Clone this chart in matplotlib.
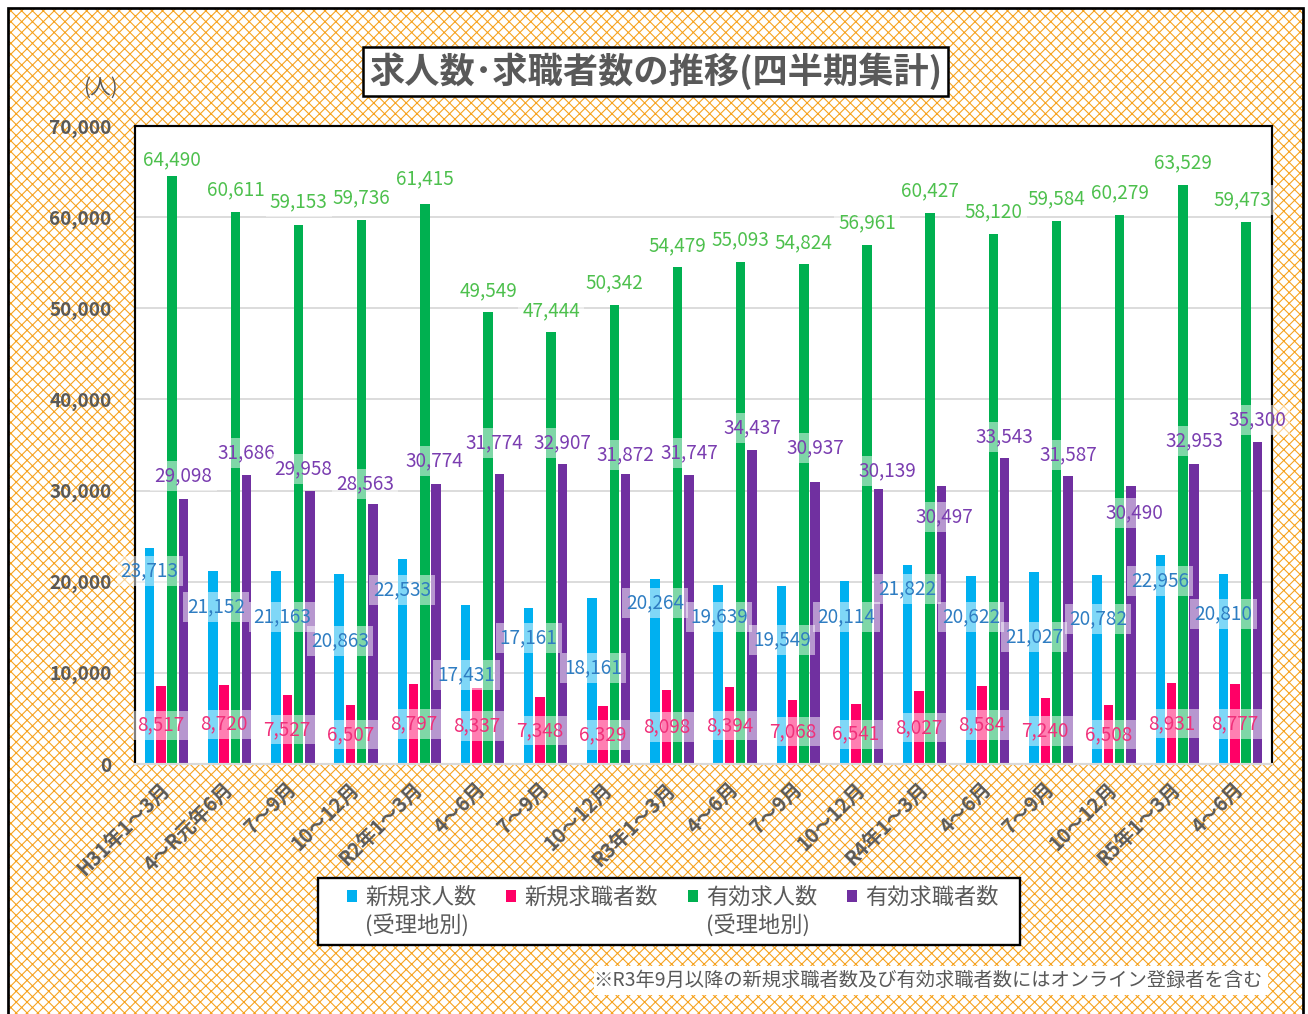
import matplotlib
matplotlib.use('Agg')
import matplotlib.pyplot as plt
from matplotlib.patches import Rectangle, Patch
import numpy as np

plt.rcParams['font.family'] = ['Noto Sans CJK JP', 'DejaVu Sans']
plt.rcParams['hatch.linewidth'] = 0.6

W, H, DPI = 1308, 1014, 130

# ---------------- data ----------------
categories = ["H31年1～3月", "4～R元年6月", "7～9月", "10～12月",
              "R2年1～3月", "4～6月", "7～9月", "10～12月",
              "R3年1～3月", "4～6月", "7～9月", "10～12月",
              "R4年1～3月", "4～6月", "7～9月", "10～12月",
              "R5年1～3月", "4～6月"]
new_openings = [23713, 21152, 21163, 20863, 22533, 17431, 17161, 18161, 20264,
                19639, 19549, 20114, 21822, 20622, 21027, 20782, 22956, 20810]
new_seekers = [8517, 8720, 7527, 6507, 8797, 8337, 7348, 6329, 8098,
               8394, 7068, 6541, 8027, 8584, 7240, 6508, 8931, 8777]
active_openings = [64490, 60611, 59153, 59736, 61415, 49549, 47444, 50342, 54479,
                   55093, 54824, 56961, 60427, 58120, 59584, 60279, 63529, 59473]
active_seekers = [29098, 31686, 29958, 28563, 30774, 31774, 32907, 31872, 31747,
                  34437, 30937, 30139, 30497, 33543, 31587, 30490, 32953, 35300]

series_names = ["新規求人数", "新規求職者数", "有効求人数", "有効求職者数"]
series_sub = ["(受理地別)", "", "(受理地別)", ""]
yticks = [0, 10000, 20000, 30000, 40000, 50000, 60000, 70000]
title = "求人数･求職者数の推移(四半期集計)"
unit = "(人)"
note = "※R3年9月以降の新規求職者数及び有効求職者数にはオンライン登録者を含む"

# ---------------- styles / label layout ----------------
bar_colors = ["#00B0F0", "#FF0066", "#00B050", "#7030A0"]
label_colors = ["#2E7DC2", "#F0307A", "#4DC04D", "#7A3DB0"]
text_gray = "#595959"

blue_label_y = [21176, 17226, 16129, 13496, 19091, 9765, 13825, 10533, 17665,
                16129, 13605, 16129, 19201, 16129, 13935, 15910, 20079, 16458]
blue_label_dx = [0, 3, 6, 1, 0, 1, 0, 1, 0, 1, 1, 2, 0, 0, 0, 1, 0, 0]
purple_label_y = [31599, 34123, 32367, 30722, 33245, 35220, 35220, 33904, 34123,
                  36866, 34672, 32148, 27101, 35878, 33904, 27540, 35440, 37744]
purple_label_dx = [0, 0, -7, -8, -2, -5, 0, 0, 0, 0, 0, 9, 3, 0, 0, 3, 0, 0]
green_label_dy = [16, 22, 23, 22, 25, 22, 21, 22, 22, 22, 22, 22, 22, 22, 22, 22, 22, 22]
green_label_dx = [0, 0, 0, 0, 0, 0, 0, 0, 0, 0, 0, 0, 0, 0, 0, 0, 0, -4]


def fx(px):
    return px / W


def fy(py):
    return 1 - py / H


def pt(px):
    return px * 72.0 / DPI


fig = plt.figure(figsize=(W / DPI, H / DPI), dpi=DPI)
fig.patch.set_facecolor('white')

# patterned background + outer border
bg = Rectangle((fx(8), fy(1020)), fx(1303) - fx(8), fy(8) - fy(1020),
               transform=fig.transFigure, facecolor='white', edgecolor='#F6A21E',
               hatch='xxxx', linewidth=0, zorder=-10)
fig.add_artist(bg)
border = Rectangle((fx(8), fy(1020)), fx(1303) - fx(8), fy(8) - fy(1020),
                   transform=fig.transFigure, facecolor='none', edgecolor='black',
                   linewidth=1.5, zorder=-9)
fig.add_artist(border)

ax = fig.add_axes([fx(135), fy(764), fx(1272) - fx(135), fy(126) - fy(764)])
ax.set_facecolor('white')

x = np.arange(len(categories))
step = 0.179
width = 0.15
series = [new_openings, new_seekers, active_openings, active_seekers]
for k, (vals, c) in enumerate(zip(series, bar_colors)):
    ax.bar(x + (k - 1.5) * step, vals, width=width, color=c, zorder=2, linewidth=0)

box = dict(boxstyle='square,pad=0.22', fc='white', ec='none', alpha=0.5)
fs_lab = 10.5
for i in range(len(categories)):
    # new openings (blue)
    ax.annotate(f"{new_openings[i]:,}", xy=(x[i] - 1.5 * step, blue_label_y[i]),
                xytext=(pt(blue_label_dx[i]), 0), textcoords='offset points',
                ha='center', va='center', fontsize=fs_lab, color=label_colors[0],
                bbox=box, zorder=5)
    # new seekers (pink) - centered in bar
    ax.annotate(f"{new_seekers[i]:,}", xy=(x[i] - 0.5 * step, new_seekers[i] / 2),
                ha='center', va='center', fontsize=fs_lab, color=label_colors[1],
                bbox=box, zorder=5)
    # active openings (green) - above bar
    ax.annotate(f"{active_openings[i]:,}", xy=(x[i] + 0.5 * step, active_openings[i]),
                xytext=(pt(green_label_dx[i]), pt(green_label_dy[i])),
                textcoords='offset points',
                ha='center', va='center', fontsize=fs_lab, color=label_colors[2],
                bbox=box, zorder=5)
    # active seekers (purple)
    ax.annotate(f"{active_seekers[i]:,}", xy=(x[i] + 1.5 * step, purple_label_y[i]),
                xytext=(pt(purple_label_dx[i]), 0), textcoords='offset points',
                ha='center', va='center', fontsize=fs_lab, color=label_colors[3],
                bbox=box, zorder=5)

ax.set_xlim(-0.5, len(categories) - 0.5)
ax.set_ylim(0, 70000)
ax.set_yticks(yticks)
ax.set_yticklabels([f"{t:,}" for t in yticks], fontweight='bold', color=text_gray,
                   fontsize=10.5)
ax.tick_params(axis='y', length=0, pad=13)
ax.yaxis.grid(True, color='#D9D9D9', linewidth=1.0, zorder=0)
ax.set_axisbelow(True)

ax.set_xticks(x)
ax.set_xticklabels(categories, rotation=45, ha='right', va='center',
                   rotation_mode='anchor', fontweight='bold', color=text_gray,
                   fontsize=11)
ax.tick_params(axis='x', length=0, pad=12)

for s in ['top', 'left', 'right']:
    ax.spines[s].set_color('black')
    ax.spines[s].set_linewidth(1.2)
ax.spines['bottom'].set_color('#D9D9D9')
ax.spines['bottom'].set_linewidth(1.2)

# title box
tb = Rectangle((fx(363), fy(96)), fx(948) - fx(363), fy(47) - fy(96),
               transform=fig.transFigure, facecolor='white', edgecolor='black',
               linewidth=1.4, zorder=3)
fig.add_artist(tb)
fig.text(fx(656), fy(71.5), title, ha='center', va='center', fontsize=19.5,
         fontweight='bold', color=text_gray, zorder=4)

fig.text(fx(100), fy(88), unit, ha='center', va='center', fontsize=11.5,
         color=text_gray)

# legend box
lb = Rectangle((fx(318), fy(945)), fx(1020) - fx(318), fy(878) - fy(945),
               transform=fig.transFigure, facecolor='white', edgecolor='black',
               linewidth=1.3, zorder=3)
fig.add_artist(lb)
handles = [Patch(facecolor=c, edgecolor='none') for c in bar_colors]
leg = fig.legend(handles, series_names, loc='upper left',
                 bbox_to_anchor=(fx(347), fy(887)), ncol=4, frameon=False,
                 fontsize=12.3, handlelength=0.45, handleheight=0.45,
                 handletextpad=0.36, columnspacing=1.35, labelcolor=text_gray,
                 borderpad=0, borderaxespad=0)
leg.set_zorder(4)

fig.canvas.draw()
renderer = fig.canvas.get_renderer()
for i, sub in enumerate(series_sub):
    if not sub:
        continue
    bb = leg.get_texts()[i].get_window_extent(renderer)
    yc = (bb.y0 + bb.y1) / 2 - 27
    fig.text(bb.x0 / W, yc / H, sub, ha='left', va='center', fontsize=12.3,
             color=text_gray, zorder=5)

# footnote
nb = Rectangle((fx(594), fy(995)), fx(1268) - fx(594), fy(966) - fy(995),
               transform=fig.transFigure, facecolor='white', edgecolor='none',
               zorder=3)
fig.add_artist(nb)
fig.text(fx(1263), fy(980), note, ha='right', va='center', fontsize=10.7,
         color=text_gray, zorder=4)

fig.savefig('out.png', dpi=DPI)
